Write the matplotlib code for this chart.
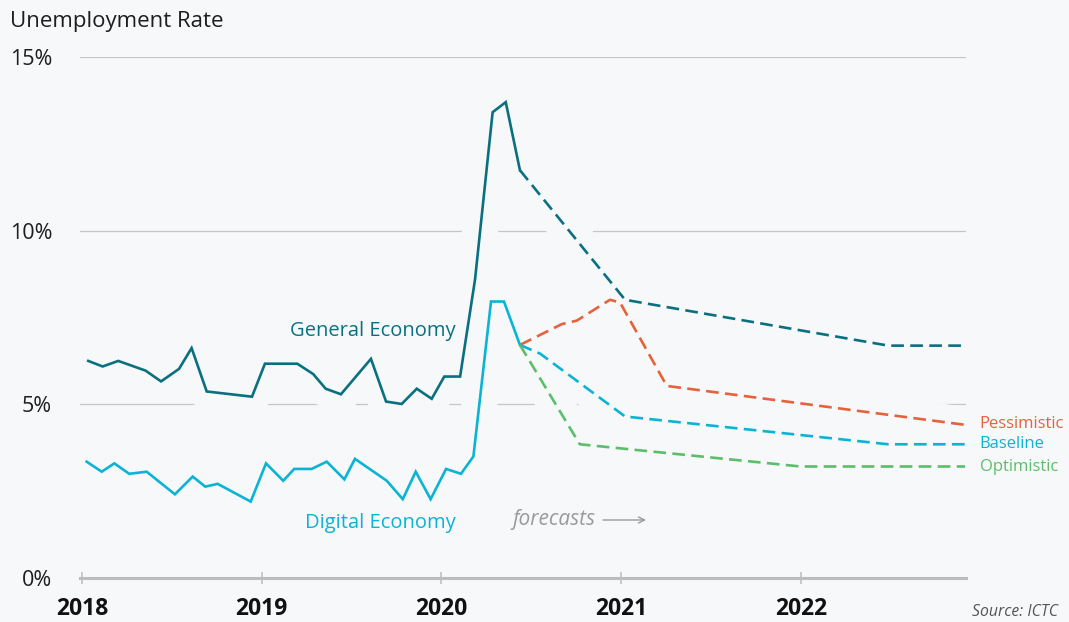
import numpy as np
import matplotlib
matplotlib.use('Agg')
import matplotlib.pyplot as plt

# Data (decimal years, percent)
general_x = [2018.035, 2018.115, 2018.202, 2018.354, 2018.44, 2018.54, 2018.61, 2018.694,
             2018.946, 2019.018, 2019.198, 2019.287, 2019.356, 2019.441, 2019.608, 2019.692,
             2019.779, 2019.863, 2019.946, 2020.016, 2020.104, 2020.187, 2020.285, 2020.358,
             2020.437]
general_y = [6.25, 6.09, 6.25, 5.97, 5.66, 6.02, 6.62, 5.37,
             5.22, 6.17, 6.17, 5.87, 5.45, 5.29, 6.31, 5.08,
             5.01, 5.45, 5.16, 5.80, 5.80, 8.59, 13.41, 13.70,
             11.74]
general_fc_x = [2020.437, 2021.022, 2022.487, 2022.914]
general_fc_y = [11.74, 8.01, 6.69, 6.69]

digital_x = [2018.026, 2018.11, 2018.18, 2018.263, 2018.36, 2018.517, 2018.616, 2018.686,
             2018.755, 2018.939, 2019.024, 2019.12, 2019.181, 2019.278, 2019.362, 2019.46,
             2019.519, 2019.696, 2019.785, 2019.857, 2019.94, 2020.026, 2020.109, 2020.178,
             2020.276, 2020.348, 2020.437]
digital_y = [3.35, 3.06, 3.30, 3.00, 3.06, 2.41, 2.92, 2.63,
             2.71, 2.20, 3.30, 2.80, 3.14, 3.14, 3.35, 2.84,
             3.43, 2.80, 2.27, 3.06, 2.27, 3.14, 3.00, 3.50,
             7.96, 7.96, 6.71]

pess_x = [2020.437, 2020.67, 2020.753, 2020.938, 2020.994, 2021.254, 2022.914]
pess_y = [6.71, 7.31, 7.41, 8.01, 7.93, 5.53, 4.41]
base_x = [2020.437, 2020.549, 2021.022, 2022.487, 2022.914]
base_y = [6.71, 6.46, 4.65, 3.85, 3.85]
opt_x = [2020.437, 2020.77, 2022.0, 2022.914]
opt_y = [6.71, 3.85, 3.21, 3.21]

years = [2018, 2019, 2020, 2021, 2022]
yticks = [0, 5, 10, 15]
ylabels = ['0%', '5%', '10%', '15%']

# Style
plt.rcParams['font.family'] = ['Open Sans', 'DejaVu Sans']
bg = '#f7f8fa'
c_general = '#0a7080'
c_digital = '#0bb4d4'
c_pess = '#e5623a'
c_opt = '#5cbd6a'
lw = 1.9
halo_lw = 26
dash = (4.8, 2.4)

fig = plt.figure(figsize=(10.69, 6.22), dpi=100, facecolor=bg)
ax = fig.add_axes([80 / 1069, 44 / 622, 886 / 1069, 521 / 622])
ax.set_facecolor(bg)

series = [
    (general_x, general_y, c_general, '-'),
    (general_fc_x, general_fc_y, c_general, '--'),
    (digital_x, digital_y, c_digital, '-'),
    (pess_x, pess_y, c_pess, '--'),
    (base_x, base_y, c_digital, '--'),
    (opt_x, opt_y, c_opt, '--'),
]

# background halos cut the gridlines around each line
for xs, ys, col, ls in series:
    ax.plot(xs, ys, color=bg, linewidth=halo_lw, solid_capstyle='round',
            solid_joinstyle='round', zorder=2)

for xs, ys, col, ls in series:
    if ls == '--':
        ax.plot(xs, ys, color=col, linewidth=lw, dashes=dash, zorder=3)
    else:
        ax.plot(xs, ys, color=col, linewidth=lw, solid_joinstyle='miter', zorder=3)

ax.set_xlim(2017.989, 2022.919)
ax.set_ylim(0, 15)

ax.set_yticks(yticks)
ax.set_yticklabels(ylabels, fontsize=15.5, color='#1e1e1e')
ax.set_xticks(years)
ax.set_xticklabels([str(y) for y in years], fontsize=16.5, fontweight='bold', color='#111111')
ax.tick_params(axis='y', length=0, pad=20)
ax.tick_params(axis='x', direction='inout', length=9, width=1.1, color='#bdbdbd', pad=9)

ax.set_axisbelow(True)
ax.grid(axis='y', color='#c6c6c6', linewidth=0.9)
for s in ['top', 'right', 'left']:
    ax.spines[s].set_visible(False)
ax.spines['bottom'].set_color('#bdbdbd')
ax.spines['bottom'].set_linewidth(2.2)

# Labels
ax.text(2020.081, 6.97, 'General Economy', color=c_general, fontsize=14.5,
        ha='right', va='baseline', zorder=4)
ax.text(2020.081, 1.44, 'Digital Economy', color=c_digital, fontsize=14.5,
        ha='right', va='baseline', zorder=4)
ax.text(2020.397, 1.67, 'forecasts', color='#9a9a9a', fontsize=15,
        style='italic', ha='left', va='center', zorder=4)
ax.annotate('', xy=(2021.139, 1.67), xytext=(2020.899, 1.67),
            arrowprops=dict(arrowstyle='->', color='#9a9a9a', lw=1.0,
                            shrinkA=0, shrinkB=0, mutation_scale=11))
ax.text(2022.995, 4.44, 'Pessimistic', color=c_pess, fontsize=12, ha='left', va='center',
        clip_on=False)
ax.text(2022.995, 3.85, 'Baseline', color=c_digital, fontsize=12, ha='left', va='center',
        clip_on=False)
ax.text(2022.995, 3.21, 'Optimistic', color=c_opt, fontsize=12, ha='left', va='center',
        clip_on=False)

fig.text(10 / 1069, 1 - 27 / 622, 'Unemployment Rate', fontsize=16, color='#1e1e1e',
         ha='left', va='baseline')
fig.text(1058 / 1069, 1 - 612 / 622, 'Source: ICTC', fontsize=11.3, color='#555555',
         style='italic', ha='right', va='center')

plt.savefig('out.png', dpi=100, facecolor=bg)
